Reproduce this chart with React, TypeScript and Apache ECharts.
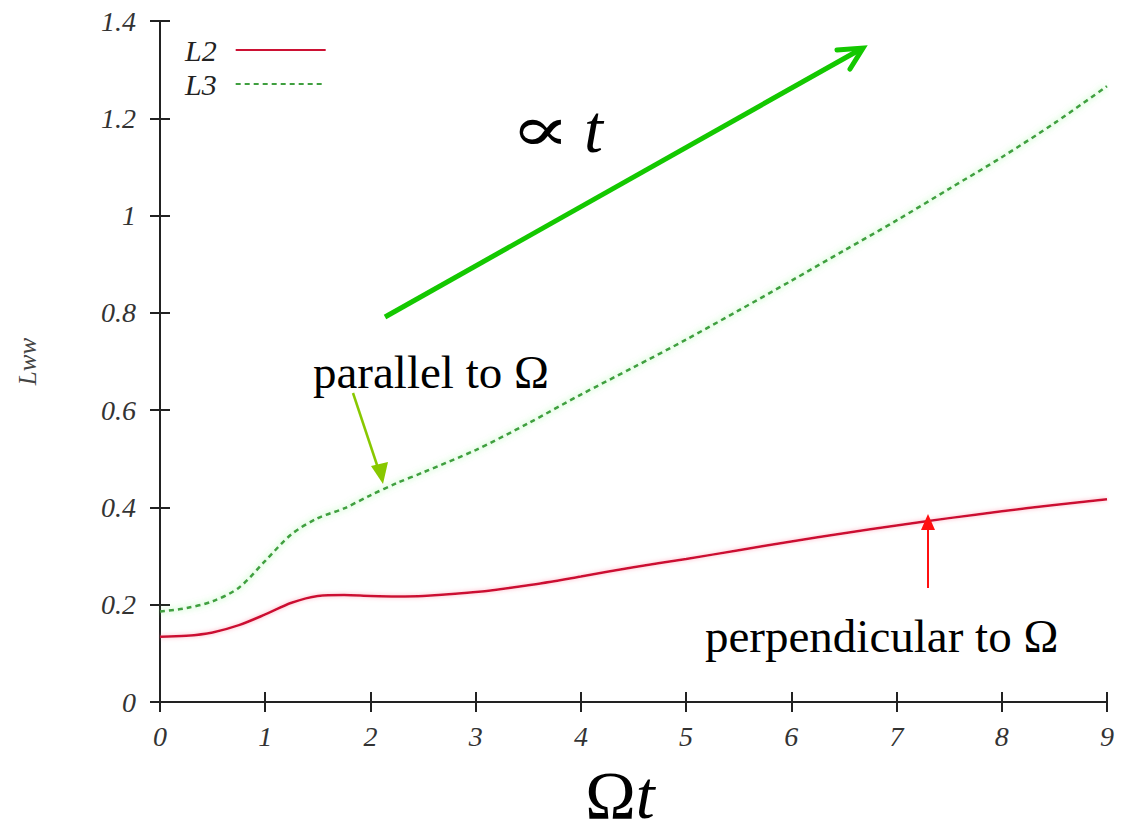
import React, { useEffect, useRef } from "react";
import * as echarts from "echarts";

// ---- data ----
const omegaT = [0, 0.25, 0.5, 0.75, 1, 1.25, 1.5, 1.75, 2, 2.25, 2.5, 3, 3.5, 4, 4.5, 5, 5.5, 6, 6.5, 7, 7.5, 8, 8.5, 9];
const L2 = [0.134, 0.136, 0.143, 0.158, 0.180, 0.204, 0.218, 0.220, 0.218, 0.217, 0.218, 0.226, 0.240, 0.258, 0.277, 0.294, 0.312, 0.330, 0.347, 0.363, 0.378, 0.392, 0.405, 0.417];
const L3 = [0.186, 0.193, 0.207, 0.235, 0.290, 0.345, 0.378, 0.398, 0.425, 0.450, 0.472, 0.518, 0.573, 0.632, 0.688, 0.745, 0.805, 0.866, 0.928, 0.990, 1.055, 1.120, 1.190, 1.266];
const seriesNames = ["L2", "L3"];
const xRange = [0, 9];
const yRange = [0, 1.4];

const SERIF = "'Liberation Serif', 'DejaVu Serif', serif";

export default function App() {
  const ref = useRef<HTMLDivElement>(null);

  useEffect(() => {
    document.documentElement.style.margin = "0";
    document.documentElement.style.overflow = "hidden";
    document.body.style.margin = "0";
    document.body.style.overflow = "hidden";
    if (!ref.current) return;
    const chart = echarts.init(ref.current, undefined, { renderer: "svg" });

    const tickLabel = {
      fontFamily: SERIF,
      fontStyle: "italic" as const,
      fontSize: 28,
      color: "#333",
    };
    const axisLine = { show: true, lineStyle: { color: "#222", width: 2 } };
    const axisTick = { show: true, inside: true, length: 10, lineStyle: { color: "#222", width: 2 } };

    chart.setOption({
      animation: false,
      backgroundColor: "#ffffff",
      grid: {
        left: 160,
        top: 21,
        width: 947,
        height: 681,
        containLabel: false,
        outerBoundsMode: "none",
      },
      legend: {
        data: seriesNames,
        orient: "vertical",
        left: 180,
        top: 30,
        align: "right",
        itemWidth: 90,
        itemHeight: 14,
        itemGap: 4,
        itemStyle: { opacity: 0 },
        textStyle: { ...tickLabel, fontSize: 30, color: "#222", padding: [0, 14, 0, 0] },
      },
      xAxis: [
        {
          type: "value",
          min: xRange[0],
          max: xRange[1],
          interval: 1,
          position: "bottom",
          axisLine,
          axisTick,
          splitLine: { show: false },
          axisLabel: { ...tickLabel, margin: 20 },
        },
        {
          type: "value",
          min: xRange[0],
          max: xRange[1],
          interval: 1,
          position: "top",
          axisLine,
          axisTick,
          splitLine: { show: false },
          axisLabel: { show: false },
        },
      ],
      yAxis: [
        {
          type: "value",
          min: yRange[0],
          max: yRange[1],
          interval: 0.2,
          position: "left",
          axisLine,
          axisTick,
          splitLine: { show: false },
          axisLabel: { ...tickLabel, margin: 24 },
          name: "Lww",
          nameLocation: "middle",
          nameRotate: 90,
          nameGap: 120,
          nameTextStyle: { fontFamily: SERIF, fontStyle: "italic", fontSize: 25, color: "#444" },
        },
        {
          type: "value",
          min: yRange[0],
          max: yRange[1],
          interval: 0.2,
          position: "right",
          axisLine,
          axisTick,
          splitLine: { show: false },
          axisLabel: { show: false },
        },
      ],
      series: [
        {
          name: seriesNames[0],
          type: "line",
          smooth: 0.3,
          symbol: "none",
          data: omegaT.map((x, i) => [x, L2[i]]),
          lineStyle: {
            color: "#cc1133",
            width: 2.5,
            shadowColor: "rgba(255,120,150,0.6)",
            shadowBlur: 4,
          },
          itemStyle: { color: "#cc1133" },
        },
        {
          name: seriesNames[1],
          type: "line",
          smooth: 0.3,
          symbol: "none",
          data: omegaT.map((x, i) => [x, L3[i]]),
          lineStyle: {
            color: "#3f9f3f",
            width: 2.5,
            type: [5, 4],
            shadowColor: "rgba(110,240,110,0.8)",
            shadowBlur: 6,
          },
          itemStyle: { color: "#3f9f3f" },
        },
      ],
      graphic: [
        // x-axis title
        {
          type: "text",
          x: 620,
          y: 795,
          style: {
            text: "{o|Ω}{t|t}",
            align: "center",
            verticalAlign: "middle",
            rich: {
              o: { fontFamily: SERIF, fontSize: 68, fill: "#000" },
              t: { fontFamily: SERIF, fontSize: 68, fontStyle: "italic", fill: "#000" },
            },
          },
          z: 10,
        },
        // big green "proportional to t" arrow
        {
          type: "line",
          shape: { x1: 385, y1: 317, x2: 861, y2: 49 },
          style: { stroke: "#14c800", lineWidth: 5, lineCap: "butt" },
          z: 10,
        },
        {
          type: "polyline",
          shape: { points: [[837, 50], [863, 48], [850, 69]] },
          style: { stroke: "#14c800", lineWidth: 5, fill: null, lineCap: "round", lineJoin: "miter" },
          z: 10,
        },
        {
          type: "text",
          x: 510,
          y: 130,
          scaleX: 1.4,
          style: {
            text: "∝",
            fontFamily: SERIF,
            fontSize: 64,
            fill: "#000",
            verticalAlign: "middle",
          },
          z: 10,
        },
        {
          type: "text",
          x: 584,
          y: 129,
          style: {
            text: "t",
            fontFamily: SERIF,
            fontStyle: "italic",
            fontSize: 68,
            fill: "#000",
            verticalAlign: "middle",
          },
          z: 10,
        },
        // parallel annotation
        {
          type: "text",
          x: 313,
          y: 372,
          style: { text: "parallel to Ω", fontFamily: SERIF, fontSize: 47, fill: "#000", verticalAlign: "middle" },
          z: 10,
        },
        {
          type: "line",
          shape: { x1: 353, y1: 393, x2: 378, y2: 468 },
          style: { stroke: "#88c800", lineWidth: 2.5 },
          z: 10,
        },
        {
          type: "polygon",
          shape: { points: [[371, 466], [388, 462], [383, 484]] },
          style: { fill: "#88c800" },
          z: 10,
        },
        // perpendicular annotation
        {
          type: "text",
          x: 705,
          y: 636,
          style: { text: "perpendicular to Ω", fontFamily: SERIF, fontSize: 47, fill: "#000", verticalAlign: "middle" },
          z: 10,
        },
        {
          type: "line",
          shape: { x1: 928, y1: 588, x2: 928, y2: 528 },
          style: { stroke: "#ff1010", lineWidth: 2 },
          z: 10,
        },
        {
          type: "polygon",
          shape: { points: [[921, 530], [935, 530], [928, 514]] },
          style: { fill: "#ff1010" },
          z: 10,
        },
      ],
    });

    return () => chart.dispose();
  }, []);

  return <div ref={ref} style={{ width: 1124, height: 833, background: "#fff" }} />;
}
